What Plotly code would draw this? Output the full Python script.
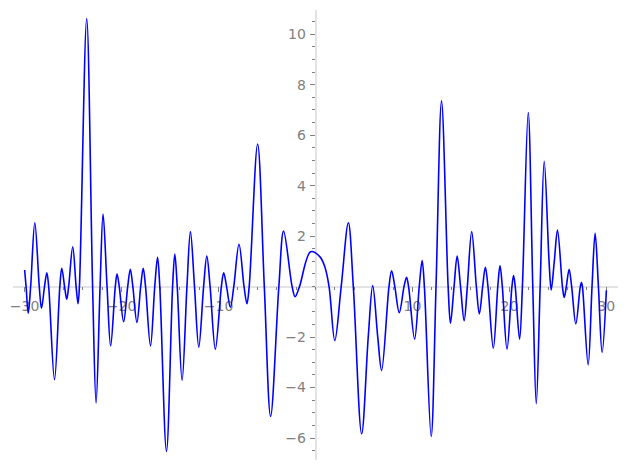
import plotly.graph_objects as go

# Local extrema (x, y)
ext_x = [-30.0, -29.63, -28.95, -28.26, -27.71, -26.92, -26.17, -25.66, -25.04, -24.49,
         -23.6, -22.63, -21.91, -21.13, -20.47, -19.79, -19.1, -18.42, -17.77, -17.02,
         -16.29, -15.37, -14.51, -13.76, -12.9, -12.04, -11.21, -10.33, -9.47, -8.78,
         -7.89, -7.07, -5.97, -4.63, -3.29, -2.1, -0.5, 1.99, 3.39, 4.76,
         5.9, 6.82, 7.85, 8.64, 9.39, 10.22, 11.0, 11.93, 13.0, 13.92,
         14.61, 15.33, 16.11, 16.9, 17.52, 18.34, 19.03, 19.75, 20.43, 21.05,
         21.94, 22.77, 23.59, 24.31, 24.96, 25.65, 26.16, 26.85, 27.43, 28.12,
         28.84, 29.56, 30.0]
ext_y = [0.66, -1.05, 2.53, -0.86, 0.55, -3.69, 0.73, -0.50, 1.58, -0.68,
         10.62, -4.61, 2.88, -2.35, 0.50, -1.39, 0.69, -1.42, 0.73, -2.35,
         1.16, -6.53, 1.29, -3.72, 2.18, -2.40, 1.21, -2.48, 0.55, -0.82,
         1.68, -0.68, 5.65, -5.14, 2.20, -0.40, 1.38, -2.14, 2.53, -5.83,
         0.04, -3.32, 0.63, -1.03, 0.37, -2.08, 1.03, -5.94, 7.36, -1.45,
         1.21, -1.35, 2.18, -1.08, 0.77, -2.44, 0.83, -2.48, 0.44, -2.08,
         6.90, -4.64, 4.97, -0.13, 2.24, -0.43, 0.69, -1.48, 0.16, -3.10,
         2.11, -2.61, -0.15]

# Where the curve crosses y = 0
zero_x = [-29.85, -29.38, -28.49, -27.95, -27.52, -26.37, -25.88, -25.46, -24.69, -24.35,
          -22.99, -22.22, -21.50, -20.65, -20.24, -19.37, -18.84, -18.03, -17.53, -16.58,
          -16.06, -14.74, -14.26, -13.26, -12.48, -11.54, -10.87, -9.71, -9.17, -8.43,
          -7.37, -6.84, -5.28, -3.78, -2.41, -1.65, 1.40, 2.65, 3.90, 7.58,
          8.18, 9.13, 9.60, 10.70, 11.23, 12.43, 13.68, 14.29, 14.96, 15.66,
          16.59, 17.24, 17.79, 18.80, 19.27, 20.26, 20.60, 21.34, 22.41, 23.17,
          25.47, 25.87, 26.42, 27.31, 27.53, 28.52, 29.18]

# A few more points
extra_x = [0.44, 0.96, 5.44, 6.42, 24.09, 24.63]
extra_y = [1.19, 0.79, -2.0, -2.0, 1.0, 1.0]

x_ticks = [-30, -20, -10, 10, 20, 30]
x_tick_text = ["\u221230", "\u221220", "\u221210", "10", "20", "30"]
y_ticks = [-6, -4, -2, 2, 4, 6, 8, 10]
y_tick_text = ["\u22126", "\u22124", "\u22122", "2", "4", "6", "8", "10"]

pts = sorted(list(zip(ext_x, ext_y)) + [(v, 0.0) for v in zero_x] + list(zip(extra_x, extra_y)))
xs = [p[0] for p in pts]
ys = [p[1] for p in pts]

fig = go.Figure()
fig.add_trace(go.Scatter(x=xs, y=ys, mode="lines",
                         line=dict(color="#0000ff", width=1.6, shape="spline", smoothing=1.0),
                         hoverinfo="skip", showlegend=False))

ymin, ymax = -6.87, 10.96
xmin, xmax = -31.2, 31.2
tickfont = dict(family="DejaVu Sans", size=14, color="#808080")

# the page body adds an 8px offset, so the figure is sized/margined to compensate
fig.update_layout(
    width=619, height=462,
    margin=dict(l=5, r=9, t=2, b=10, autoexpand=False),
    paper_bgcolor="white", plot_bgcolor="white",
    showlegend=False,
    xaxis=dict(range=[xmin, xmax], anchor="free", position=(0 - ymin) / (ymax - ymin),
               automargin=False,
               showgrid=False, zeroline=False, showline=True, linecolor="#e3e3e3", linewidth=1.6,
               tickmode="array", tickvals=x_ticks, ticktext=x_tick_text,
               ticks="outside", ticklen=5, tickwidth=1, tickcolor="#808080",
               ticklabelstandoff=2,
               minor=dict(dtick=2, tick0=0, ticklen=3, tickwidth=0.8, tickcolor="#808080", ticks="outside", showgrid=False),
               tickfont=tickfont, layer="below traces"),
    yaxis=dict(range=[ymin, ymax], anchor="free", position=(0 - xmin) / (xmax - xmin),
               automargin=False,
               showgrid=False, zeroline=False, showline=True, linecolor="#e3e3e3", linewidth=1.6,
               tickmode="array", tickvals=y_ticks, ticktext=y_tick_text,
               ticks="outside", ticklen=5, tickwidth=1, tickcolor="#808080",
               ticklabelstandoff=1,
               minor=dict(dtick=0.5, tick0=0, ticklen=3, tickwidth=0.8, tickcolor="#808080", ticks="outside", showgrid=False),
               tickfont=tickfont, layer="below traces"),
)

fig.write_html("out.html")
